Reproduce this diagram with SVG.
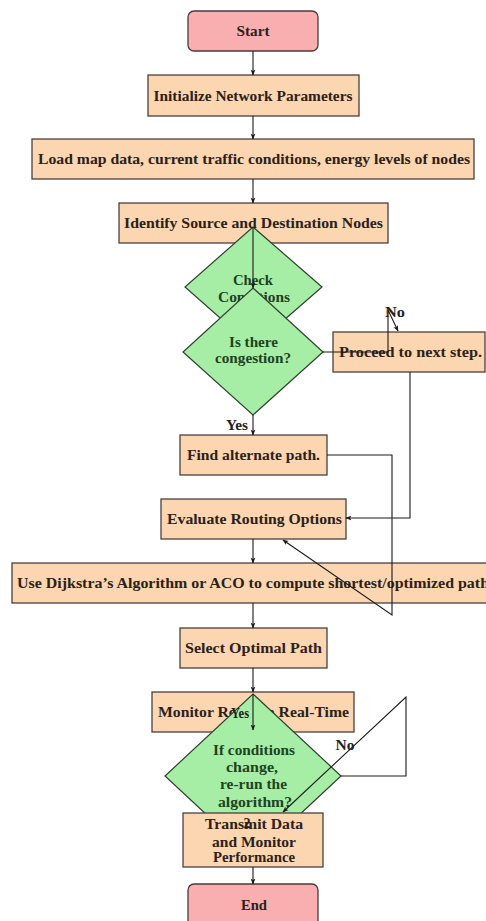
<svg xmlns="http://www.w3.org/2000/svg" width="486" height="921" viewBox="0 0 486 921">
<defs>
<marker id="ah" viewBox="0 0 10 10" refX="9" refY="5" markerWidth="6" markerHeight="6" orient="auto-start-reverse" markerUnits="userSpaceOnUse">
<path d="M0,1 L10,5 L0,9 L2.5,5 Z" fill="#1a1a1a"/>
</marker>
<style>
.term{fill:#f9aeb0;stroke:#4a3a3a;stroke-width:1.3}
.proc{fill:#fcd6b0;stroke:#4a4040;stroke-width:1.3}
.dec{fill:#a6eea6;stroke:#2f3f2f;stroke-width:1.2}
text{font-family:"Liberation Serif","Times New Roman",serif;font-weight:bold;font-size:14px;fill:#2a211a;text-anchor:middle}
.dt{fill:#1f421f}
.lbl{fill:#222}
.c{fill:none;stroke:#1a1a1a;stroke-width:1.1}
</style>
</defs>
<rect width="486" height="921" fill="#ffffff"/>

<g id="start"><rect class="term" x="188" y="11" width="130" height="40" rx="6"/><text x="253" y="35.5" textLength="33" lengthAdjust="spacingAndGlyphs">Start</text></g>
<g id="init"><rect class="proc" x="148" y="75" width="211" height="41"/><text x="253" y="100.5" textLength="199" lengthAdjust="spacingAndGlyphs">Initialize Network Parameters</text></g>
<g id="load"><rect class="proc" x="32" y="139" width="442" height="40"/><text x="254" y="164" textLength="432" lengthAdjust="spacingAndGlyphs">Load map data, current traffic conditions, energy levels of nodes</text></g>
<g id="identify"><rect class="proc" x="119" y="203" width="269" height="40"/><text x="253.5" y="228" textLength="259" lengthAdjust="spacingAndGlyphs">Identify Source and Destination Nodes</text></g>
<g id="check"><polygon class="dec" points="253,227 322,287 253,347 185,287"/><text class="dt" x="253" y="285" textLength="40" lengthAdjust="spacingAndGlyphs">Check</text><text class="dt" x="254" y="302" textLength="72" lengthAdjust="spacingAndGlyphs">Conditions</text></g>
<g id="congestion"><polygon class="dec" points="253,288 323,352 253,415 183,352"/><text class="dt" x="253.5" y="347" textLength="49" lengthAdjust="spacingAndGlyphs">Is there</text><text class="dt" x="253" y="363" textLength="76" lengthAdjust="spacingAndGlyphs">congestion?</text></g>
<g id="proceed"><rect class="proc" x="333" y="332" width="152" height="40"/><text x="410.5" y="357" textLength="143" lengthAdjust="spacingAndGlyphs">Proceed to next step.</text></g>
<g id="find"><rect class="proc" x="180" y="435" width="147" height="40"/><text x="253.5" y="460" textLength="133" lengthAdjust="spacingAndGlyphs">Find alternate path.</text></g>
<g id="evaluate"><rect class="proc" x="161" y="499" width="185" height="40"/><text x="254.5" y="524" textLength="175" lengthAdjust="spacingAndGlyphs">Evaluate Routing Options</text></g>
<g id="dijkstra"><rect class="proc" x="12" y="563" width="482" height="40"/><text x="253" y="588" textLength="472" lengthAdjust="spacingAndGlyphs">Use Dijkstra’s Algorithm or ACO to compute shortest/optimized path</text></g>
<g id="select"><rect class="proc" x="180" y="628" width="147" height="40"/><text x="253.5" y="653" textLength="137" lengthAdjust="spacingAndGlyphs">Select Optimal Path</text></g>
<g id="monitor"><rect class="proc" x="152" y="692" width="202" height="40"/><text x="253.5" y="717" textLength="191" lengthAdjust="spacingAndGlyphs">Monitor Route in Real-Time</text></g>
<g id="rerun"><polygon class="dec" points="253,694 341,776 253,858 165,776"/><text class="dt" x="254" y="755" textLength="82" lengthAdjust="spacingAndGlyphs">If conditions</text><text class="dt" x="252" y="772" textLength="52" lengthAdjust="spacingAndGlyphs">change,</text><text class="dt" x="253.5" y="789" textLength="67" lengthAdjust="spacingAndGlyphs">re-run the</text><text class="dt" x="255" y="806.5" textLength="74" lengthAdjust="spacingAndGlyphs">algorithm?</text></g>
<g id="transmit"><rect class="proc" x="183" y="813" width="140" height="54"/><text x="254" y="829" textLength="98" lengthAdjust="spacingAndGlyphs">Transmit Data</text><text x="254" y="846.5" textLength="84" lengthAdjust="spacingAndGlyphs">and Monitor</text><text x="254" y="862" textLength="82" lengthAdjust="spacingAndGlyphs">Performance</text></g>
<g id="end"><rect class="term" x="188" y="884" width="130" height="42" rx="6"/><text x="254" y="910" textLength="26" lengthAdjust="spacingAndGlyphs">End</text></g>

<g id="connectors">
<path class="c" d="M253,51 V75" marker-end="url(#ah)"/>
<path class="c" d="M253,116 V139" marker-end="url(#ah)"/>
<path class="c" d="M253,179 V203" marker-end="url(#ah)"/>
<path class="c" d="M253,227 V288" marker-end="url(#ah)"/>
<path class="c" d="M323,352 H388 V310 L398,331" marker-end="url(#ah)"/>
<path class="c" d="M253,415 V435" marker-end="url(#ah)"/>
<path class="c" d="M327,455 H392 V615 L283,540" marker-end="url(#ah)"/>
<path class="c" d="M410,372 V518 H346" marker-end="url(#ah)"/>
<path class="c" d="M253,539 V563" marker-end="url(#ah)"/>
<path class="c" d="M253,603 V628" marker-end="url(#ah)"/>
<path class="c" d="M253,668 V692" marker-end="url(#ah)"/>
<path class="c" d="M253,694 V730" marker-end="url(#ah)"/>
<path class="c" d="M341,776 H406 V697 L283,812" marker-end="url(#ah)"/>
<path class="c" d="M253,867 V884" marker-end="url(#ah)"/>
<text class="lbl" x="395" y="317" textLength="20" lengthAdjust="spacingAndGlyphs">No</text>
<text class="lbl" x="237" y="430" textLength="22" lengthAdjust="spacingAndGlyphs">Yes</text>
<text class="lbl" x="240" y="718" textLength="18" lengthAdjust="spacingAndGlyphs">Yes</text>
<text class="lbl" x="345" y="750" textLength="19" lengthAdjust="spacingAndGlyphs">No</text>
<text class="lbl" x="247" y="828">2</text>
</g>
</svg>
